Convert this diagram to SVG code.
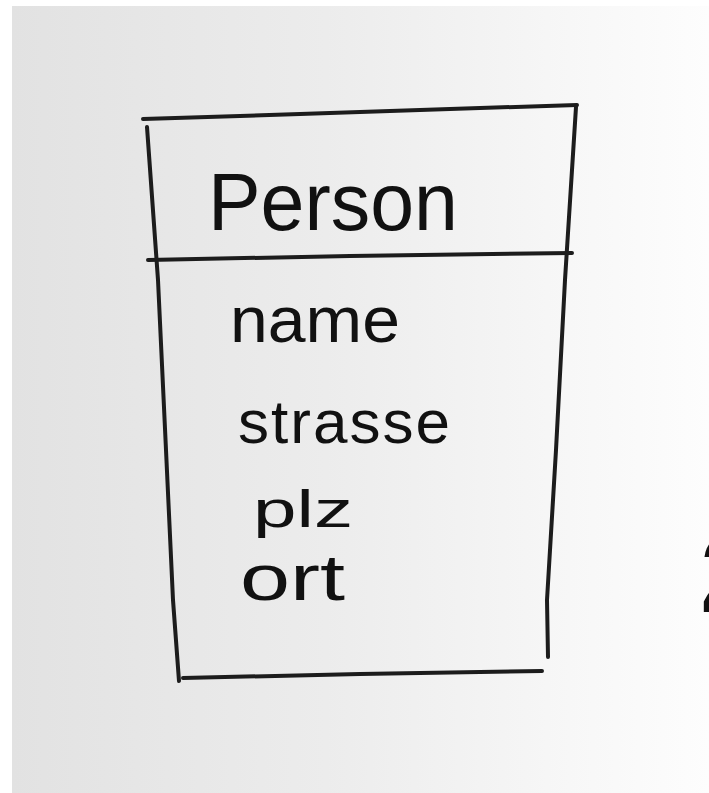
<svg xmlns="http://www.w3.org/2000/svg" width="709" height="793" viewBox="0 0 709 793">
  <defs>
    <linearGradient id="paper" x1="0" y1="0" x2="1" y2="0">
      <stop offset="0" stop-color="#e2e2e2"/>
      <stop offset="0.45" stop-color="#ececec"/>
      <stop offset="0.8" stop-color="#f7f7f7"/>
      <stop offset="1" stop-color="#fdfdfd"/>
    </linearGradient>
    <style>
      .pen { fill: none; stroke: #1c1c1c; stroke-width: 4; stroke-linecap: round; stroke-linejoin: round; }
      .hand { font-family: "Liberation Sans", "DejaVu Sans", sans-serif; fill: #111; }
    </style>
  </defs>

  <rect x="0" y="0" width="709" height="793" fill="#ffffff"/>
  <rect x="12" y="6" width="697" height="787" fill="url(#paper)"/>

  <g id="person">
    <path class="pen" d="M143,119 L300,114 L450,109 L577,105"/>
    <path class="pen" d="M147,127 L158,280 L166,450 L173,600 L179,681"/>
    <path class="pen" d="M576,107 L565,280 L556,450 L547,600 L548,657"/>
    <path class="pen" d="M148,260 L350,256 L572,253"/>
    <path class="pen" stroke-width="3" d="M183,678 L360,674 L542,671"/>
    <text class="hand" x="208" y="230" font-size="82" textLength="250" lengthAdjust="spacingAndGlyphs">Person</text>
    <text class="hand" x="230" y="342" font-size="64" textLength="170" lengthAdjust="spacingAndGlyphs">name</text>
    <text class="hand" x="238" y="443" font-size="62" textLength="212">strasse</text>
    <text class="hand" x="253" y="527" font-size="52" textLength="100" lengthAdjust="spacingAndGlyphs">plz</text>
    <text class="hand" x="240" y="600" font-size="64" textLength="105" lengthAdjust="spacingAndGlyphs">ort</text>
  </g>

  <text class="hand" x="700" y="612" font-size="110" font-weight="bold">2</text>
</svg>
